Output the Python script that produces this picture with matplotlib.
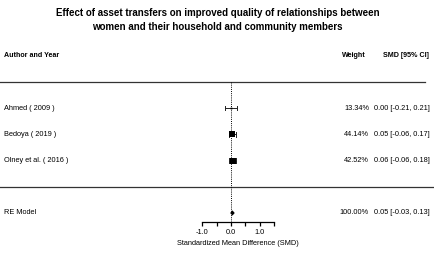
import matplotlib
matplotlib.use("Agg")
import matplotlib.pyplot as plt
import matplotlib.transforms as mtransforms

plt.rcParams["font.family"] = ["Liberation Sans", "DejaVu Sans"]

# data
studies = ["Ahmed ( 2009 )", "Bedoya ( 2019 )", "Olney et al. ( 2016 )"]
smd = [0.00, 0.05, 0.06]
ci_low = [-0.21, -0.06, -0.06]
ci_high = [0.21, 0.17, 0.18]
weights = [13.34, 44.14, 42.52]
re_est, re_low, re_high = 0.05, -0.03, 0.13
re_weight = 100.00

rows = [3, 2, 1]
re_row = -1
FS = 5.3

fig = plt.figure(figsize=(4.35, 2.58), dpi=100)
ax = fig.add_axes([0, 0, 1, 1])
# map: 0.0 at x=231px, 28.8 px per unit; row 3 at y=108px, 26.25 px per row
ax.set_xlim(-231 / 28.8, (435 - 231) / 28.8)
ax.set_ylim(-1 - 45 / 26.25, 3 + 108 / 26.25)

xfig = mtransforms.blended_transform_factory(ax.transAxes, ax.transData)

fig.text(0.5, 1 - 13 / 258, "Effect of asset transfers on improved quality of relationships between",
         ha="center", va="center", fontsize=7.0, fontweight="bold")
fig.text(0.5, 1 - 27 / 258, "women and their household and community members",
         ha="center", va="center", fontsize=7.0, fontweight="bold")

# headers
ax.text(4 / 435, 5, "Author and Year", transform=xfig, ha="left", va="center",
        fontsize=5.1, fontweight="bold")
ax.text(366 / 435, 5, "Weight", transform=xfig, ha="right", va="center",
        fontsize=5.1, fontweight="bold")
ax.text(429 / 435, 5, "SMD [95% CI]", transform=xfig, ha="right", va="center",
        fontsize=5.1, fontweight="bold")

ax.plot([0, 0.978], [4, 4], transform=xfig, color="#333333", lw=0.9)
ax.plot([0, 0.995], [0, 0], transform=xfig, color="#333333", lw=0.9)

# reference line
ax.plot([0, 0], [4, -1.35], color="black", lw=0.7, ls=(0, (1, 1.2)))

for name, y, m, lo, hi, w in zip(studies, rows, smd, ci_low, ci_high, weights):
    ax.plot([lo, hi], [y, y], color="#222222", lw=0.7)
    ax.plot([lo, lo], [y - 0.09, y + 0.09], color="#222222", lw=0.7)
    ax.plot([hi, hi], [y - 0.09, y + 0.09], color="#222222", lw=0.7)
    ax.plot(m, y, marker="s", color="black", ms=w * 0.095, mew=0)
    ax.text(4 / 435, y, name, transform=xfig, ha="left", va="center", fontsize=FS)
    ax.text(369 / 435, y, f"{w:.2f}%", transform=xfig, ha="right", va="center", fontsize=FS)
    ax.text(430 / 435, y, f"{m:.2f} [{lo:.2f}, {hi:.2f}]", transform=xfig,
            ha="right", va="center", fontsize=FS)

# RE model
ax.fill([re_low, re_est, re_high, re_est], [re_row, re_row + 0.1, re_row, re_row - 0.1],
        color="black", lw=0)
ax.text(4 / 435, re_row, "RE Model", transform=xfig, ha="left", va="center", fontsize=FS)
ax.text(369 / 435, re_row, f"{re_weight:.2f}%", transform=xfig, ha="right", va="center", fontsize=FS)
ax.text(430 / 435, re_row, f"{re_est:.2f} [{re_low:.2f}, {re_high:.2f}]", transform=xfig,
        ha="right", va="center", fontsize=FS)

# x axis
for s in ["top", "right", "left"]:
    ax.spines[s].set_visible(False)
ax.spines["bottom"].set_position(("data", -1.35))
ax.spines["bottom"].set_bounds(-1, 1.5)
ax.spines["bottom"].set_linewidth(0.9)
ax.set_xticks([-1, 0, 1])
ax.set_xticklabels(["-1.0", "0.0", "1.0"])
ax.set_xticks([-0.5, 0.5, 1.5], minor=True)
ax.tick_params(axis="x", which="both", direction="out", length=3.2, width=0.9, labelsize=FS, pad=2)
ax.set_yticks([])
ax.text(0.25, -1.35 - 21 / 26.25, "Standardized Mean Difference (SMD)", ha="center", va="center",
        fontsize=FS)

fig.savefig("out.png", dpi=100)
